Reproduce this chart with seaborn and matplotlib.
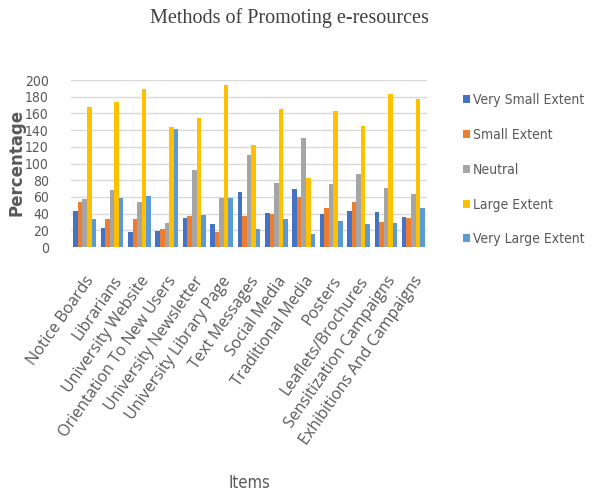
import matplotlib
matplotlib.use("Agg")
import matplotlib.pyplot as plt
import seaborn as sns
import pandas as pd
from matplotlib.patches import Patch

items = [
    "Notice Boards", "Librarians", "University Website", "Orientation To New Users",
    "University Newsletter", "University Library Page", "Text Messages", "Social Media",
    "Traditional Media", "Posters", "Leaflets/Brochures", "Sensitization Campaigns",
    "Exhibitions And Campaigns",
]
levels = ["Very Small Extent", "Small Extent", "Neutral", "Large Extent", "Very Large Extent"]

very_small = [43, 23, 18, 19, 35, 28, 66, 41, 69, 40, 43, 42, 36]
small = [54, 33, 34, 22, 37, 18, 37, 39, 60, 47, 54, 30, 35]
neutral = [57, 68, 54, 29, 92, 59, 110, 77, 131, 76, 88, 71, 63]
large = [168, 174, 189, 144, 155, 194, 122, 165, 83, 163, 145, 183, 177]
very_large = [34, 59, 61, 141, 38, 59, 22, 34, 15, 31, 27, 29, 47]

colors = ["#4472C4", "#ED7D31", "#A5A5A5", "#FFC000", "#5B9BD5"]

series = [very_small, small, neutral, large, very_large]
df = pd.DataFrame({
    "Items": [it for s in series for it in items],
    "Level": [lv for lv, s in zip(levels, series) for _ in s],
    "Percentage": [v for s in series for v in s],
})

sns.set_theme(style="white")
plt.rcParams["font.family"] = ["DejaVu Sans"]
plt.rcParams["font.stretch"] = "condensed"

fig = plt.figure(figsize=(5.94, 4.93), dpi=100)
ax = fig.add_axes([71 / 594, 1 - 247 / 493, 356 / 594, 167 / 493])

sns.barplot(data=df, x="Items", y="Percentage", hue="Level", hue_order=levels,
            order=items, palette=colors, width=0.83, saturation=1,
            legend=False, ax=ax, linewidth=0)

ax.set_ylim(0, 200)
ax.set_xlim(-0.5, len(items) - 0.5)
ax.set_yticks(range(0, 201, 20))
ax.yaxis.grid(True, color="#D9D9D9", linewidth=1)
ax.set_axisbelow(True)
for sp in ax.spines.values():
    sp.set_visible(False)

ax.tick_params(axis="y", length=0, pad=16, labelsize=10, labelcolor="#595959")
ax.tick_params(axis="x", length=0, pad=19, labelcolor="#595959")
ax.set_xticks(range(len(items)))
ax.set_xticklabels(items, rotation=55, ha="right", rotation_mode="anchor",
                   fontsize=11.5, family=["Open Sans", "DejaVu Sans"],
                   fontstretch="normal")

ax.set_xlabel("Items", fontsize=12, color="#595959")
ax.xaxis.label.set_va("center")
ax.xaxis.set_label_coords(0.5, (247 - 483) / 167)
ax.set_ylabel("Percentage", fontsize=12, color="#595959", fontweight="bold",
              family=["DejaVu Sans"], fontstretch="normal")
ax.yaxis.label.set_va("center")
ax.yaxis.set_label_coords((17 - 71) / 356, (247 - 162) / 167)

fig.text(289 / 594, 1 - 18 / 493, "Methods of Promoting e-resources",
         ha="center", va="center", fontsize=14.5, color="#404040",
         family=["Liberation Serif", "DejaVu Serif"], fontstretch="normal")

handles = [Patch(facecolor=c, edgecolor="none") for c in colors]
fig.legend(handles, levels, loc="upper left", bbox_to_anchor=(463 / 594, 1 - 93 / 493),
           frameon=False, fontsize=10, handlelength=0.5, handleheight=0.5,
           handletextpad=0.2, labelspacing=1.5, borderpad=0, borderaxespad=0,
           labelcolor="#595959")

fig.savefig("out.png", dpi=100)
